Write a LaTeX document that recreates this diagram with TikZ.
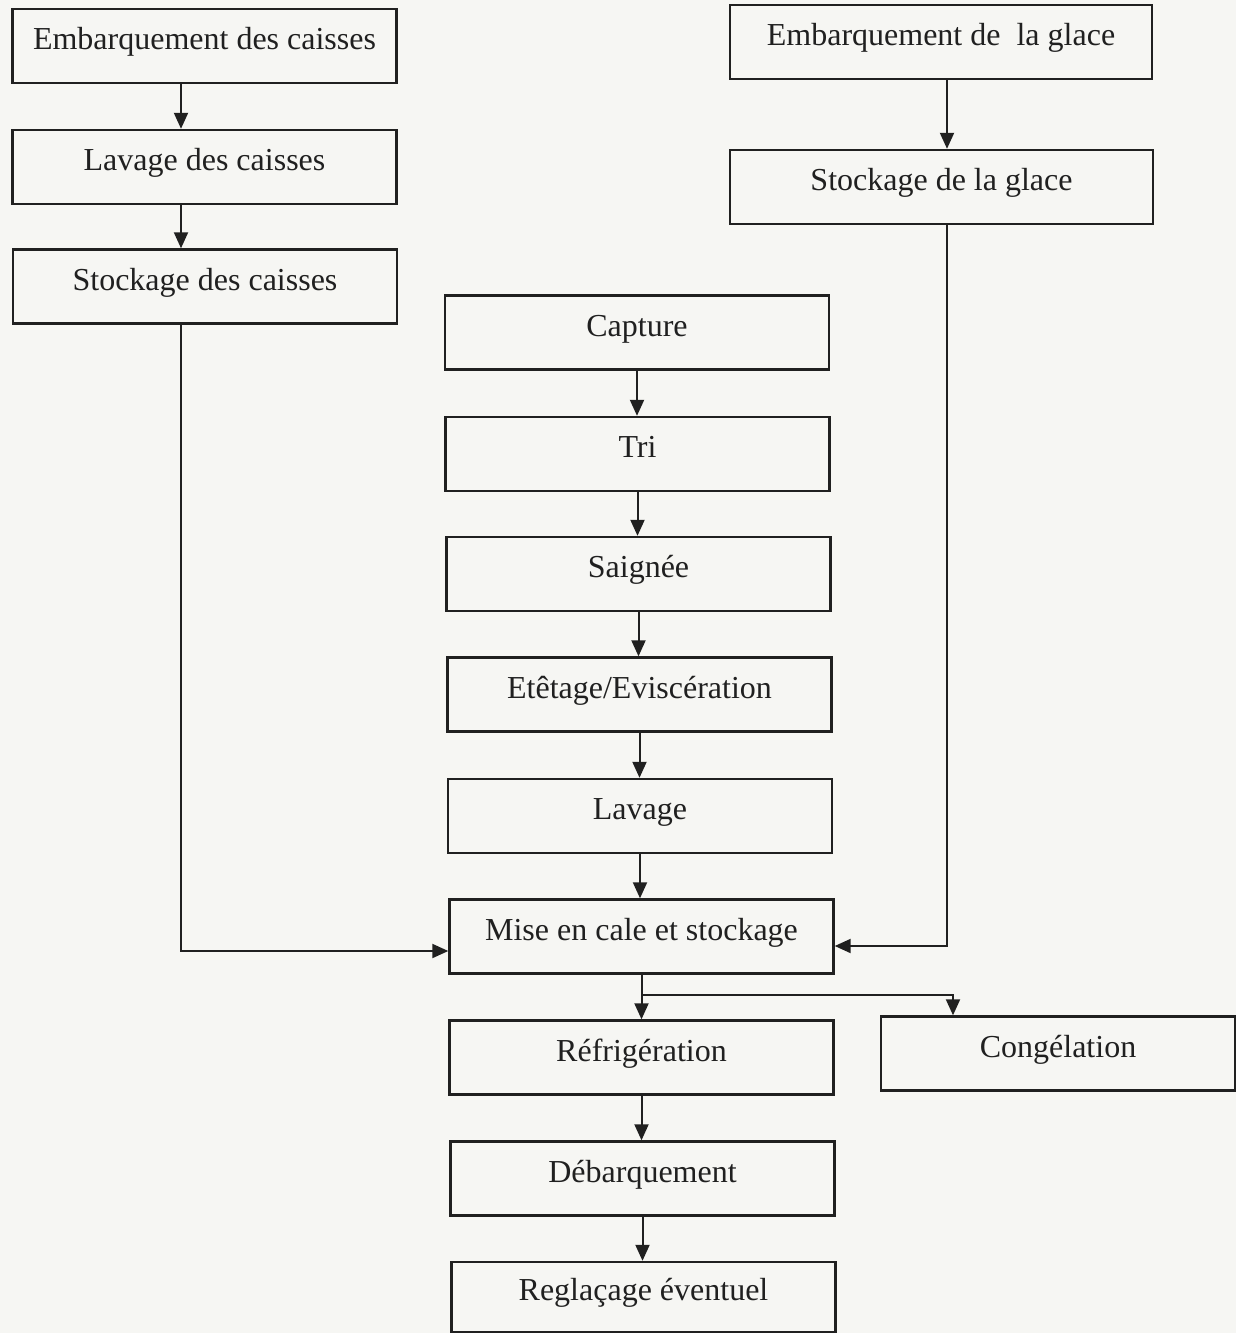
\documentclass[tikz,border=0pt]{standalone}
\usepackage{fontspec}
\setmainfont{Liberation Serif}
\usetikzlibrary{arrows.meta}
\definecolor{paper}{RGB}{246,246,243}
\definecolor{ink}{RGB}{32,32,32}
\begin{document}
\begin{tikzpicture}[x=0.5pt,y=-0.5pt,
  font=\fontsize{16}{19}\selectfont,
  box/.style={draw=ink, line width=1.2pt, inner sep=0pt,
    minimum width=192pt, minimum height=37pt,
    text height=0.7em, text depth=0.34em, text=ink},
  arr/.style={draw=ink, line width=1pt,
    -{Triangle[length=8pt,width=7pt]}}]
\fill[paper] (0,0) rectangle (1236,1333);
\useasboundingbox (0,0) rectangle (1236,1333);

% crate line
\node[box] (ec) at (204.5,46) {Embarquement des caisses};
\node[box] (lc) at (204.5,167) {Lavage des caisses};
\node[box] (sc) at (205,286.5) {Stockage des caisses};

% ice line
\node[box, minimum width=211pt] (eg) at (941,42) {Embarquement de\ \ la glace};
\node[box, minimum width=211.5pt] (sg) at (941.5,187) {Stockage de la glace};

% main processing chain
\node[box] (cap) at (637,332.5) {Capture};
\node[box] (tri) at (637.5,454) {Tri};
\node[box] (sai) at (638.5,574) {Saignée};
\node[box] (ete) at (639.5,694.5) {Etêtage/Eviscération};
\node[box] (lav) at (640,816) {Lavage};
\node[box] (mise) at (641.5,936.5) {Mise en cale et stockage};
\node[box] (ref) at (641.5,1057.5) {Réfrigération};
\node[box, minimum width=177pt] (cong) at (1058,1053.5) {Congélation};
\node[box] (deb) at (642.5,1178.5) {Débarquement};
\node[box, minimum height=35pt] (reg) at (643.5,1297) {Reglaçage éventuel};

% routing points
\coordinate (cx) at (181,0);
\coordinate (gx) at (947,0);
\coordinate (bx) at (953,0);
\coordinate (cy) at (0,951);
\coordinate (gy) at (0,946);
\coordinate (by) at (0,995);

% connectors
\draw[arr] (ec.south -| cx) -- (lc.north -| cx);
\draw[arr] (lc.south -| cx) -- (sc.north -| cx);
\draw[arr] (sc.south -| cx) |- (mise.west |- cy);

\draw[arr] (eg.south -| gx) -- (sg.north -| gx);
\draw[arr] (sg.south -| gx) |- (mise.east |- gy);

\draw[arr] (cap.south) -- (cap.south |- tri.north);
\draw[arr] (tri.south) -- (tri.south |- sai.north);
\draw[arr] (sai.south) -- (sai.south |- ete.north);
\draw[arr] (ete.south) -- (ete.south |- lav.north);
\draw[arr] (lav.south) -- (lav.south |- mise.north);

\draw[arr] (mise.south) -- (mise.south |- ref.north);
\draw[arr] (mise.south |- by) -| (cong.north -| bx);
\draw[arr] (ref.south) -- (ref.south |- deb.north);
\draw[arr] (deb.south) -- (deb.south |- reg.north);
\end{tikzpicture}
\end{document}
